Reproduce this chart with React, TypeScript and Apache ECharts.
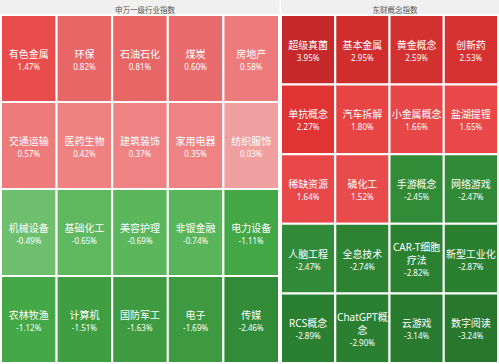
import React, { useEffect, useRef } from 'react';
import * as echarts from 'echarts';

const leftTitle = '申万一级行业指数';
const rightTitle = '东财概念指数';

const leftNames = ['有色金属', '环保', '石油石化', '煤炭', '房地产', '交通运输', '医药生物', '建筑装饰', '家用电器', '纺织服饰', '机械设备', '基础化工', '美容护理', '非银金融', '电力设备', '农林牧渔', '计算机', '国防军工', '电子', '传媒'];
const leftValues = [1.47, 0.82, 0.81, 0.60, 0.58, 0.57, 0.42, 0.37, 0.35, 0.03, -0.49, -0.65, -0.69, -0.74, -1.11, -1.12, -1.51, -1.63, -1.69, -2.46];
const leftColumns = ['c1', 'c2', 'c3', 'c4', 'c5'];
const leftRows = ['r1', 'r2', 'r3', 'r4'];

const rightNames = ['超级真菌', '基本金属', '黄金概念', '创新药', '单抗概念', '汽车拆解', '小金属概念', '盐湖提锂', '稀缺资源', '磷化工', '手游概念', '网络游戏', '人脑工程', '全息技术', 'CAR-T细胞疗法', '新型工业化', 'RCS概念', 'ChatGPT概念', '云游戏', '数字阅读'];
const rightValues = [3.95, 2.95, 2.59, 2.53, 2.27, 1.80, 1.66, 1.65, 1.64, 1.52, -2.45, -2.47, -2.47, -2.74, -2.82, -2.87, -2.89, -2.90, -3.14, -3.24];
const rightColumns = ['c1', 'c2', 'c3', 'c4'];
const rightRows = ['r1', 'r2', 'r3', 'r4', 'r5'];

// colour ramp (value -> colour)
const colorStops: [number, string][] = [
  [-3.3, '#26772c'],
  [-2.9, '#2b7f30'],
  [-2.45, '#318b37'],
  [-1.6, '#3e9c41'],
  [-1.1, '#45a846'],
  [-0.7, '#5ab65b'],
  [-0.49, '#6ebf6e'],
  [0.0, '#f1a3a3'],
  [0.03, '#f0a0a0'],
  [0.35, '#ef8383'],
  [0.58, '#ee7b7b'],
  [0.6, '#e96b6b'],
  [0.82, '#e96666'],
  [1.5, '#e84b4b'],
  [1.8, '#e74444'],
  [2.27, '#e03333'],
  [2.6, '#d33030'],
  [3.0, '#cf2d2d'],
  [4.0, '#c42929'],
];

function hexToRgb(h: string) {
  const n = parseInt(h.slice(1), 16);
  return [(n >> 16) & 255, (n >> 8) & 255, n & 255];
}
function colorFor(v: number) {
  if (v <= colorStops[0][0]) return colorStops[0][1];
  for (let i = 1; i < colorStops.length; i++) {
    const [v1, c1] = colorStops[i];
    const [v0, c0] = colorStops[i - 1];
    if (v <= v1) {
      const t = (v - v0) / (v1 - v0);
      const a = hexToRgb(c0);
      const b = hexToRgb(c1);
      const m = a.map((x, k) => Math.round(x + (b[k] - x) * t));
      return `rgb(${m[0]},${m[1]},${m[2]})`;
    }
  }
  return colorStops[colorStops.length - 1][1];
}

function buildData(names: string[], values: number[], cols: number) {
  return names.map((name, i) => ({
    name,
    value: [i % cols, Math.floor(i / cols), values[i]],
  }));
}

const FONT = '"Noto Sans", "Noto Sans CJK SC", sans-serif';
const NAME_SIZE = 10;

let measureCtx: CanvasRenderingContext2D | null = null;
function wrapName(text: string, maxWidth: number): string[] {
  if (!measureCtx) {
    const cv = document.createElement('canvas');
    measureCtx = cv.getContext('2d');
  }
  const ctx = measureCtx!;
  ctx.font = `${NAME_SIZE}px ${FONT}`;
  const lines: string[] = [];
  let cur = '';
  for (const ch of Array.from(text)) {
    const next = cur + ch;
    if (cur && ctx.measureText(next).width > maxWidth) {
      lines.push(cur);
      cur = ch;
    } else {
      cur = next;
    }
  }
  if (cur) lines.push(cur);
  return lines;
}

function makeRender(names: string[]) {
  return (params: any, api: any) => {
    const x = api.value(0);
    const y = api.value(1);
    const v = api.value(2);
    const c = api.coord([x, y]);
    const s = api.size([1, 1]);
    const w = s[0];
    const h = s[1];
    const lines = wrapName(names[params.dataIndex], w - 2);
    const text = lines.map((l) => `{n|${l}}`).join('\n') + `\n{v|${Number(v).toFixed(2)}%}`;
    return {
      type: 'group',
      children: [
        {
          type: 'rect',
          shape: { x: c[0] - w / 2, y: c[1] - h / 2, width: w, height: h },
          style: { fill: colorFor(v), stroke: '#fff', lineWidth: 2 },
        },
        {
          type: 'text',
          x: c[0],
          y: c[1] + 1,
          style: {
            text,
            align: 'center',
            verticalAlign: 'middle',
            fill: '#fff',
            rich: {
              n: { fontSize: NAME_SIZE, lineHeight: 13, fill: '#fff', fontFamily: FONT, align: 'center' },
              v: { fontSize: 8, lineHeight: 12, fill: '#fff', fontFamily: FONT, align: 'center' },
            },
          },
        },
      ],
    };
  };
}

export default function App() {
  const ref = useRef<HTMLDivElement>(null);
  useEffect(() => {
    if (!ref.current) return;
    const chart = echarts.init(ref.current, undefined, { renderer: 'svg' });
    const axisCommon = {
      type: 'category' as const,
      show: false,
      axisLine: { show: false },
      axisTick: { show: false },
      axisLabel: { show: false },
      splitLine: { show: false },
    };
    chart.setOption({
      animation: false,
      backgroundColor: '#fff',
      title: [
        { text: leftTitle, left: 140, top: 1, textAlign: 'center', textStyle: { fontSize: 7.5, fontWeight: 'normal', color: '#555', fontFamily: FONT } },
        { text: rightTitle, left: 390, top: 1, textAlign: 'center', textStyle: { fontSize: 7.5, fontWeight: 'normal', color: '#555', fontFamily: FONT } },
      ],
      graphic: [
        { type: 'rect', left: 0, top: 0, z: -10, shape: { width: 279.5, height: 14.5 }, style: { fill: '#f0f0f0' } },
        { type: 'rect', left: 281, top: 0, z: -10, shape: { width: 218, height: 14.5 }, style: { fill: '#f0f0f0' } },
      ],
      grid: [
        { left: 1, top: 15, width: 278, height: 348 },
        { left: 281, top: 15, width: 217, height: 348 },
      ],
      xAxis: [
        { ...axisCommon, gridIndex: 0, data: leftColumns },
        { ...axisCommon, gridIndex: 1, data: rightColumns },
      ],
      yAxis: [
        { ...axisCommon, gridIndex: 0, data: leftRows, inverse: true },
        { ...axisCommon, gridIndex: 1, data: rightRows, inverse: true },
      ],
      series: [
        {
          type: 'custom',
          xAxisIndex: 0,
          yAxisIndex: 0,
          data: buildData(leftNames, leftValues, leftColumns.length),
          renderItem: makeRender(leftNames),
          encode: { x: 0, y: 1 },
        },
        {
          type: 'custom',
          xAxisIndex: 1,
          yAxisIndex: 1,
          data: buildData(rightNames, rightValues, rightColumns.length),
          renderItem: makeRender(rightNames),
          encode: { x: 0, y: 1 },
        },
      ],
    });
    return () => chart.dispose();
  }, []);
  return <div ref={ref} style={{ position: 'fixed', left: 0, top: 0, width: 499, height: 364 }} />;
}
